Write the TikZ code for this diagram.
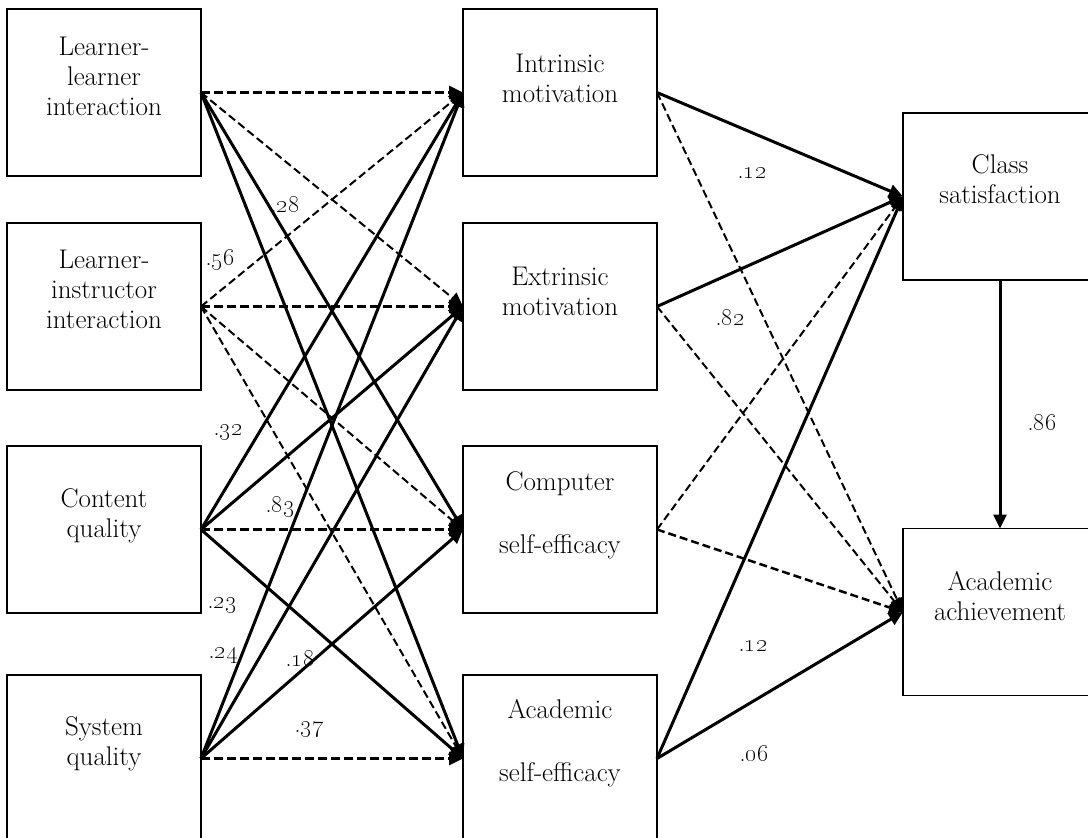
\documentclass[tikz,border=0pt]{standalone}
\usetikzlibrary{arrows.meta}
\begin{document}
\begin{tikzpicture}[x=1pt,y=-1pt,
  box/.style={draw,line width=1.5pt,minimum width=194pt,minimum height=167pt,inner sep=0pt,outer sep=0pt},
  txt/.style={anchor=north,align=center,inner sep=0pt,font=\fontsize{27}{30}\selectfont},
  txtw/.style={anchor=north,align=center,inner sep=0pt,font=\fontsize{27}{63}\selectfont},
  lab/.style={anchor=base,inner sep=0pt,font=\fontsize{24}{26}\selectfont},
  tip/.style={-{Triangle[length=14pt,width=13pt]}},
  sol/.style={tip,line width=3pt},
  dsh/.style={tip,line width=2pt,dash pattern=on 8pt off 4pt},
  dshm/.style={tip,line width=2.5pt,dash pattern=on 8pt off 4pt},
  dshk/.style={tip,line width=3pt,dash pattern=on 9pt off 4pt}]
\useasboundingbox (0,0) rectangle (1088,838);
\clip (0,0) rectangle (1088,838);
\fill[white] (0,0) rectangle (1088,838);
% boxes
\node[box] (LL) at (104,92.5) {};
\node[box] (LI) at (104,306.5) {};
\node[box] (CQ) at (104,529.5) {};
\node[box] (SQ) at (104,758.5) {};
\node[box] (IM) at (560,92.5) {};
\node[box] (EM) at (560,306.5) {};
\node[box] (CSE) at (560,529.5) {};
\node[box] (ASE) at (560,758.5) {};
\node[box] (CS) at (1000,196.5) {};
\node[box] (AA) at (1000,612) {};
% texts
\node[txt] (tLL) at (104,36.5) {Learner-\\learner\\interaction};
\node[txt] (tLI) at (104,249.5) {Learner-\\instructor\\interaction};
\node[txt] (tCQ) at (104,488.5) {Content\\quality};
\node[txt] (tSQ) at (104,716.5) {System\\quality};
\node[txt] (tIM) at (560,53.5) {Intrinsic\\motivation};
\node[txt] (tEM) at (560,266.5) {Extrinsic\\motivation};
\node[txtw] (tCSE) at (560,471.5) {Computer\\self-efficacy};
\node[txtw] (tASE) at (560,699.5) {Academic\\self-efficacy};
\node[txt] (tCS) at (1000,154.5) {Class\\satisfaction};
\node[txt] (tAA) at (1000,571.5) {Academic\\achievement};
% left -> middle
\draw[dshk] (LL.east) -- (IM.west);
\draw[dsh] (LL.east) -- (EM.west);
\draw[sol] (LL.east) -- (CSE.west);
\draw[sol] (LL.east) -- (ASE.west);
\draw[dsh] (LI.east) -- (IM.west);
\draw[dshk] (LI.east) -- (EM.west);
\draw[dsh] (LI.east) -- (CSE.west);
\draw[dsh] (LI.east) -- (ASE.west);
\draw[sol] (CQ.east) -- (IM.west);
\draw[sol] (CQ.east) -- (EM.west);
\draw[dshk] (CQ.east) -- (CSE.west);
\draw[sol] (CQ.east) -- (ASE.west);
\draw[sol] (SQ.east) -- (IM.west);
\draw[sol] (SQ.east) -- (EM.west);
\draw[sol] (SQ.east) -- (CSE.west);
\draw[dshk] (SQ.east) -- (ASE.west);
% middle -> right
\draw[sol] (IM.east) -- (CS.west);
\draw[dsh] (IM.east) -- (AA.west);
\draw[sol] (EM.east) -- (CS.west);
\draw[dsh] (EM.east) -- (AA.west);
\draw[dsh] (CSE.east) -- (CS.west);
\draw[dshm] (CSE.east) -- (AA.west);
\draw[sol] (ASE.east) -- (CS.west);
\draw[sol] (ASE.east) -- (AA.west);
\draw[sol] (CS.south) -- (AA.north);
% labels
\node[lab] (l28) at (285,212) {.\oldstylenums{28}};
\node[lab] (l56) at (220,265) {.\oldstylenums{56}};
\node[lab] (l32) at (228,435) {.\oldstylenums{32}};
\node[lab] (l83) at (280,512) {.\oldstylenums{83}};
\node[lab] (l23) at (222,608) {.\oldstylenums{23}};
\node[lab] (l24) at (223,658) {.\oldstylenums{24}};
\node[lab] (l18) at (300,666) {.\oldstylenums{18}};
\node[lab] (l37) at (309,732) {.\oldstylenums{37}};
\node[lab] (l12a) at (752,178) {.\oldstylenums{12}};
\node[lab] (l82) at (730,325) {.\oldstylenums{82}};
\node[lab] (l86) at (1042,430) {.\oldstylenums{86}};
\node[lab] (l12b) at (753,651) {.\oldstylenums{12}};
\node[lab] (l06) at (754,761) {.\oldstylenums{06}};
\end{tikzpicture}
\end{document}
